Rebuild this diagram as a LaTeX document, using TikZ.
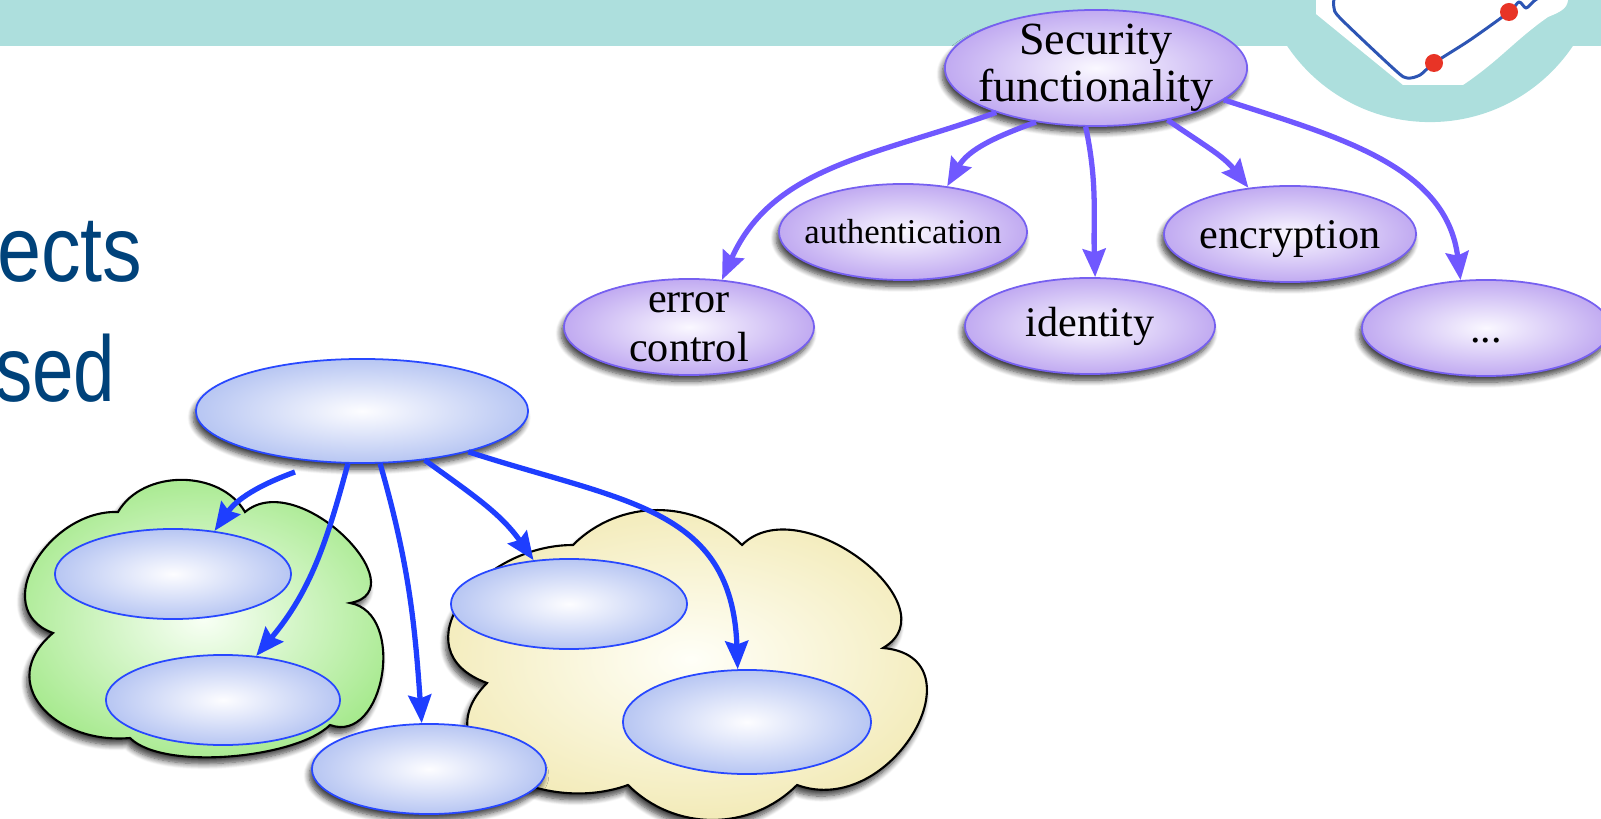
\documentclass[tikz,border=0pt]{standalone}
\usepackage{fontspec}
\setmainfont{Liberation Serif}
\newfontfamily\slidesans{Liberation Sans}
\usetikzlibrary{shapes.geometric,arrows.meta,shadows.blur}

% palette
\definecolor{barcol}{RGB}{173,223,221}
\definecolor{headblue}{RGB}{0,66,122}
\definecolor{lavC}{RGB}{250,248,255}
\definecolor{lavE}{RGB}{172,142,236}
\definecolor{lavLine}{RGB}{118,96,240}
\definecolor{bluC}{RGB}{253,253,255}
\definecolor{bluE}{RGB}{158,178,238}
\definecolor{bluLine}{RGB}{40,72,255}
\definecolor{grnC}{RGB}{248,255,245}
\definecolor{grnE}{RGB}{146,228,116}
\definecolor{ylwC}{RGB}{255,255,248}
\definecolor{ylwE}{RGB}{238,227,160}
\definecolor{parrowcol}{RGB}{112,88,255}
\definecolor{barrowcol}{RGB}{30,62,255}
\definecolor{logoblue}{RGB}{45,85,180}
\definecolor{logored}{RGB}{232,52,38}

% radial fills: centre colour in the middle, rim colour reached at the shape's edge
\pgfdeclareradialshading{lavshade}{\pgfpoint{0bp}{0bp}}{color(0bp)=(lavC); color(34bp)=(lavE); color(100bp)=(lavE)}
\pgfdeclareradialshading{blushade}{\pgfpoint{0bp}{0bp}}{color(0bp)=(bluC); color(34bp)=(bluE); color(100bp)=(bluE)}
\pgfdeclareradialshading{grnshade}{\pgfpoint{0bp}{0bp}}{color(0bp)=(grnC); color(30bp)=(grnE); color(100bp)=(grnE)}
\pgfdeclareradialshading{ylwshade}{\pgfpoint{0bp}{0bp}}{color(0bp)=(ylwC); color(32bp)=(ylwE); color(100bp)=(ylwE)}

\begin{document}
\begin{tikzpicture}[x=0.01cm,y=0.01cm,
  softshadow/.style={blur shadow={shadow xshift=-0.8pt,shadow yshift=-1.8pt,
      shadow blur radius=1.6pt,shadow blur steps=8,shadow opacity=75}},
  lav/.style={ellipse,inner sep=0pt,draw=lavLine,line width=0.5pt,
      shading=lavshade,softshadow},
  blu/.style={ellipse,inner sep=0pt,draw=bluLine,line width=0.5pt,shading=blushade},
  blushadow/.style={blu,softshadow},
  cloudG/.style={draw=black,line width=0.6pt,shading=grnshade,softshadow},
  cloudY/.style={draw=black,line width=0.6pt,shading=ylwshade,softshadow},
  parrow/.style={draw=parrowcol,line width=1.5pt,
      -{Stealth[length=8pt,width=6.5pt,inset=1pt]}},
  barrow/.style={draw=barrowcol,line width=1.5pt,
      -{Stealth[length=8pt,width=6.5pt,inset=1pt]}},
  lbl/.style={font=\fontsize{12}{14}\selectfont,align=center},
  sidetext/.style={anchor=base east,inner sep=0pt,text=headblue,
      font=\slidesans\fontsize{26.5}{30}\selectfont}
]
\useasboundingbox (0,0) rectangle (1601,-819);

% header band and logo badge
\fill[barcol] (0,0) rectangle (1601,-46);
\fill[barcol] (1430,50) circle[radius=1.72cm];
\fill[white] (1316,0) -- (1316,-14) -- (1403,-85) -- (1463,-85)
  .. controls (1500,-60) and (1515,-40) .. (1548,-17)
  .. controls (1560,-12) and (1567,-9) .. (1568,0) -- cycle;
\draw[logoblue,line width=0.85pt,line cap=round,line join=round]
  plot[smooth,tension=0.5] coordinates {(1334,2) (1334,-8) (1341,-19) (1395,-70) (1407,-78)
  (1420,-75) (1434,-63) (1470,-40) (1509,-12) (1519,-2) (1526,-8) (1534,-1) (1540,3)};
\fill[logored] (1434,-63) circle[radius=0.09cm];
\fill[logored] (1509,-12) circle[radius=0.09cm];

% side text
\node[sidetext,xscale=0.85] (ects) at (143,-282) {ects};
\node[sidetext,xscale=0.8] (sed) at (116,-402) {sed};

% clouds
\path[cloudG] (118,-512) to[out=60,in=120] (245,-512)
  to[out=40,in=10,looseness=1.3] (350,-603)
  to[out=-10,in=-20,looseness=1.2] (330,-725)
  to[out=-135,in=-45,looseness=0.6] (130,-738)
  to[out=185,in=-140,looseness=1.5] (53,-633)
  to[out=160,in=178,looseness=1.3] (118,-512) -- cycle;
\path[cloudY] (487,-683) to[out=160,in=180,looseness=1.5] (573,-545)
  to[out=45,in=135] (742,-545)
  to[out=45,in=30,looseness=1.2] (883,-648)
  to[out=-5,in=-20,looseness=1.6] (797,-785)
  to[out=-135,in=-45] (628,-785)
  to[out=-160,in=-135,looseness=1.4] (487,-683) -- cycle;

% security tree
\node[lav,minimum width=3.02cm,minimum height=1.16cm,
  label={[align=center,font=\fontsize{13.1}{13.4}\selectfont]center:{Security\\functionality}}]
  (sec) at (1096,-68) {};
\node[lav,minimum width=2.48cm,minimum height=0.96cm,
  label={[font=\fontsize{9.9}{12}\selectfont]center:authentication}] (auth) at (903,-232) {};
\node[lav,minimum width=2.50cm,minimum height=0.96cm,
  label={[lbl]center:{error\\control}}] (err) at (689,-327) {};
\node[lav,minimum width=2.50cm,minimum height=0.96cm,
  label={[lbl]center:identity}] (ident) at (1090,-326) {};
\node[lav,minimum width=2.52cm,minimum height=0.96cm,
  label={[lbl,yshift=-1.5pt]center:encryption}] (enc) at (1290,-234) {};
\node[lav,minimum width=2.48cm,minimum height=0.96cm,
  label={[font=\fontsize{12}{14}\selectfont,yshift=-3.5pt]center:...}] (more) at (1486,-328) {};

\draw[parrow] (sec.204) to[out=200,in=66] (err.55);
\draw[parrow] (sec.222) to[out=200,in=60] (auth.46);
\draw[parrow] (sec.260) to[out=-78,in=92] (ident.84);
\draw[parrow] (sec.324) to[out=-35,in=128] (enc.132);
\draw[parrow] (sec.346) to[out=-18,in=97] (more.118);

% component tree
\node[blushadow,minimum width=3.32cm,minimum height=1.04cm] (top) at (362,-411) {};
\node[blu,minimum width=2.36cm,minimum height=0.90cm] (g1) at (173,-574) {};
\node[blu,minimum width=2.34cm,minimum height=0.90cm] (g2) at (223,-700) {};
\node[blushadow,minimum width=2.34cm,minimum height=0.90cm] (bot) at (429,-769) {};
\node[blu,minimum width=2.36cm,minimum height=0.90cm] (y1) at (569,-604) {};
\node[blu,minimum width=2.48cm,minimum height=1.04cm] (y2) at (747,-722) {};

\coordinate (tail) at (295,-472);
\draw[barrow] (tail) to[out=200,in=55] (g1.46);
\draw[barrow] (top.255) to[out=-105,in=50] (g2.53);
\draw[barrow] (top.289) to[out=-74,in=94] (bot.99);
\draw[barrow] (top.322) to[out=-36,in=125] (y1.129);
\draw[barrow] (top.339) to[out=-18,in=92,looseness=1.2] (y2.100);
\end{tikzpicture}
\end{document}
